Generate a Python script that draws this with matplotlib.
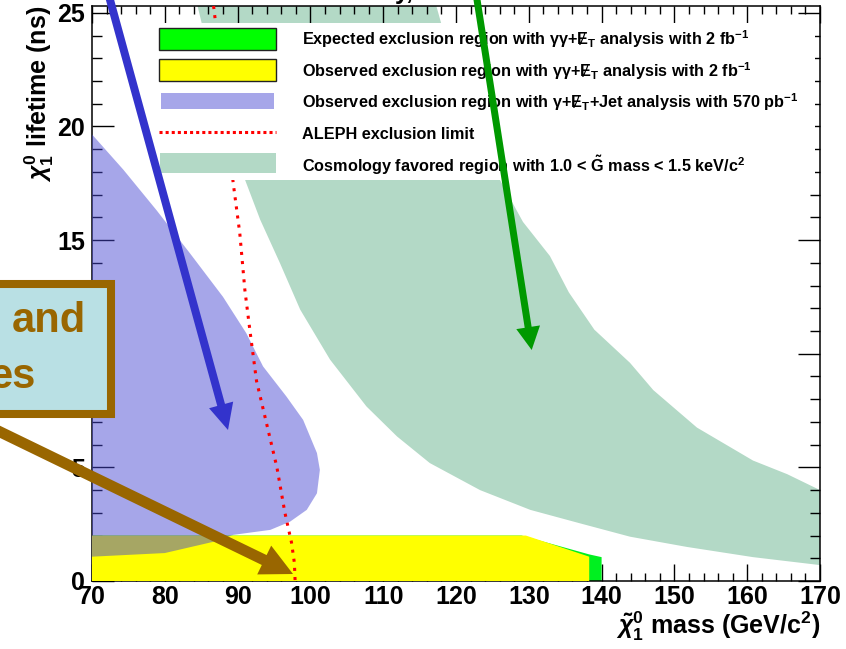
import matplotlib
matplotlib.use("Agg")
import matplotlib.pyplot as plt
from matplotlib.patches import Rectangle, FancyArrow
from matplotlib.lines import Line2D
from matplotlib.ticker import MultipleLocator

plt.rcParams['font.family'] = ['Liberation Sans', 'DejaVu Sans']
plt.rcParams['font.weight'] = 'bold'
plt.rcParams['axes.labelweight'] = 'bold'
plt.rcParams['mathtext.fontset'] = 'custom'
plt.rcParams['mathtext.rm'] = 'Liberation Sans:bold'
plt.rcParams['mathtext.bf'] = 'Liberation Sans:bold'
plt.rcParams['mathtext.it'] = 'Liberation Sans:italic:bold'
plt.rcParams['mathtext.sf'] = 'Liberation Sans:bold'

# expected exclusion (gamma gamma + MET, 2 fb-1)
exp_x = [70, 70, 129.0, 138.3, 140.0, 140.0]
exp_y = [0, 2.0, 2.0, 1.17, 1.05, 0]

# observed exclusion (gamma gamma + MET, 2 fb-1)
obs_x = [70, 70, 129.6, 138.3, 138.3]
obs_y = [0, 2.0, 2.0, 1.07, 0]

# observed exclusion (gamma + MET + jet, 570 pb-1)
jet_x = [70, 70, 74.3, 78.9, 83.5, 88.0, 91.2, 93.5, 96.7, 99.0, 100.9, 101.3,
         100.9, 99.5, 97.2, 94.5, 89.4, 86.6, 80.0, 70]
jet_y = [1.07, 19.65, 18.1, 16.3, 14.4, 12.5, 10.9, 9.44, 8.12, 7.09, 5.63, 4.89,
         3.86, 3.13, 2.61, 2.25, 2.03, 1.72, 1.23, 1.07]

# ALEPH limit
aleph_x = [86.7, 87.0, 89.4, 90.3, 91.0, 91.7, 92.6, 94.0, 95.4, 96.5, 97.4, 97.8, 97.9]
aleph_y = [25.3, 24.5, 17.5, 15.3, 12.8, 11.0, 8.8, 6.9, 5.0, 3.0, 1.7, 0.8, 0.0]

# cosmology favoured band: lower edge, then upper edge
cosmo_lo_x = [84.5, 85.1, 88.0, 91.0, 93.1, 95.8, 98.6, 102.7, 107.7, 111.9,
              116.4, 123.3, 130.2, 137.0, 143.9, 151.7, 160.8, 170.0]
cosmo_lo_y = [25.3, 24.5, 21.0, 17.67, 15.9, 14.0, 11.94, 9.74, 7.68, 6.36,
              5.19, 4.0, 3.13, 2.54, 1.95, 1.5, 1.05, 0.7]
cosmo_hi_x = [170.0, 165.5, 160.8, 153.1, 147.1, 143.9, 139.0, 135.5, 132.9,
              129.2, 126.0, 122.0, 118.0, 117.3]
cosmo_hi_y = [4.0, 4.7, 5.3, 6.75, 8.4, 9.6, 11.06, 12.7, 14.3,
              15.8, 17.67, 21.0, 24.5, 25.3]

legend_labels = [
    'Expected exclusion region with $\\mathrm{\\gamma\\gamma}$+Ɇ$_\\mathrm{T}$ analysis with 2 fb$^{-1}$',
    'Observed exclusion region with $\\mathrm{\\gamma\\gamma}$+Ɇ$_\\mathrm{T}$ analysis with 2 fb$^{-1}$',
    'Observed exclusion region with $\\mathrm{\\gamma}$+Ɇ$_\\mathrm{T}$+Jet analysis with 570 pb$^{-1}$',
    'ALEPH exclusion limit',
    'Cosmology favored region with 1.0 < $\\tilde{\\mathrm{G}}$ mass < 1.5 keV/c$^2$',
]

GREEN = '#00f020'
YELLOW = '#ffff00'
JET_BLUE = '#4646d2'
JET_ALPHA = 0.48
COSMO = '#b3d9c6'
BROWN = '#996600'

W, H = 846, 649
fig = plt.figure(figsize=(W / 100, H / 100), dpi=100)
ax = fig.add_axes([92 / W, (H - 581) / H, 728 / W, 575 / H])

ax.fill(cosmo_lo_x + cosmo_hi_x, cosmo_lo_y + cosmo_hi_y, color=COSMO, lw=0, zorder=1)
ax.fill(exp_x, exp_y, color=GREEN, lw=0, zorder=2)
ax.fill(obs_x, obs_y, color=YELLOW, lw=0, zorder=3)
ax.fill(jet_x, jet_y, color=JET_BLUE, alpha=JET_ALPHA, lw=0, zorder=4)
ax.plot(aleph_x, aleph_y, color='red', lw=2.2, ls=(0, (1, 2)), zorder=5)

ax.set_xlim(70, 170)
ax.set_ylim(0, 25.3)
ax.xaxis.set_major_locator(MultipleLocator(10))
ax.xaxis.set_minor_locator(MultipleLocator(2))
ax.yaxis.set_major_locator(MultipleLocator(5))
ax.yaxis.set_minor_locator(MultipleLocator(1))
ax.tick_params(which='both', direction='in', top=True, right=True, width=1,
               labelsize=18)
ax.tick_params(axis='x', which='major', length=12, pad=3)
ax.tick_params(axis='x', which='minor', length=6)
ax.tick_params(axis='y', which='major', length=15.6, pad=5)
ax.tick_params(axis='y', which='minor', length=7.2)
for s in ax.spines.values():
    s.set_linewidth(1.1)
for t in ax.get_xticklabels() + ax.get_yticklabels():
    t.set_fontweight('bold')

ax.set_xlabel('$\\tilde{\\chi}_1^0$ mass (GeV/c$^2$)', fontsize=18, loc='right')
ax.xaxis.set_label_coords(1.0, -0.05)
ax.set_ylabel('$\\chi_1^0$ lifetime (ns)', fontsize=18, loc='top')
ax.yaxis.set_label_coords(-0.049, 1.0)

# overlay in figure pixels (y down) for legend, callout box and arrows
ov = fig.add_axes([0, 0, 1, 1], zorder=5)
ov.set_xlim(0, W)
ov.set_ylim(H, 0)
ov.axis('off')

ov.add_patch(Rectangle((150, 23), 665, 157, fc='white', ec='none', zorder=1))
ov.add_patch(Rectangle((159, 28), 117, 22, fc='#00ff00', ec='#222222', lw=1, zorder=2))
ov.add_patch(Rectangle((159, 59), 117, 22, fc=YELLOW, ec='#222222', lw=1, zorder=2))
ov.add_patch(Rectangle((161, 93), 113, 16, fc=JET_BLUE, alpha=JET_ALPHA, lw=0, zorder=2))
ov.add_line(Line2D([159, 276], [132, 132], color='red', lw=2.2, ls=(0, (1, 1)), zorder=2))
ov.add_patch(Rectangle((160, 153), 116, 20, fc=COSMO, lw=0, zorder=2))
for lab, yb in zip(legend_labels, [45.5, 77, 108, 139, 172]):
    ov.text(302, yb, lab, fontsize=11.7, va='baseline', ha='left', zorder=2)

# callout box on the left
ov.add_patch(Rectangle((-20, 284), 131, 130, fc='#b9e0e4', ec=BROWN, lw=5.8, zorder=3))
ov.text(86, 332, 'and', color=BROWN, fontsize=30, ha='right', va='baseline', zorder=4)
ov.text(36, 388, 'es', color=BROWN, fontsize=30, ha='right', va='baseline', zorder=4)

# arrows
ov.add_patch(FancyArrow(107.3, -10, 228 - 107.3, 430 + 10, width=8, head_width=25,
                        head_length=26, length_includes_head=True,
                        color='#3333cc', lw=0, zorder=6))
ov.add_patch(FancyArrow(475.5, -10, 531.7 - 475.5, 350 + 10, width=7, head_width=24,
                        head_length=23, length_includes_head=True,
                        color='#009900', lw=0, zorder=6))
ov.add_patch(FancyArrow(-10, 427, 293 + 10, 574 - 427, width=11, head_width=32,
                        head_length=32, length_includes_head=True,
                        color=BROWN, lw=0, zorder=6))

fig.text(395 / W, 1 + 1.5 / H, 'y,', fontsize=18, ha='left', va='baseline')

fig.savefig('out.png', dpi=100)
